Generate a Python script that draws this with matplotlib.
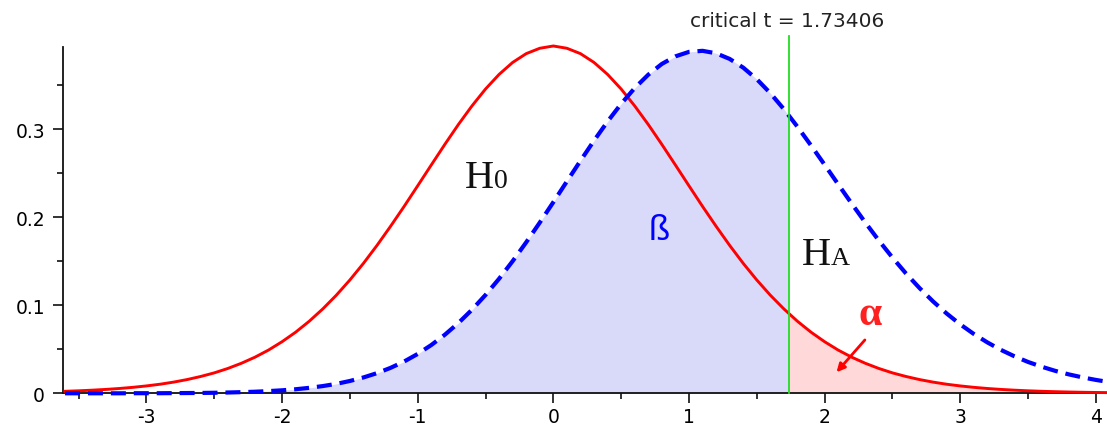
import matplotlib
matplotlib.use("Agg")
import matplotlib.pyplot as plt
import numpy as np
from matplotlib.ticker import MultipleLocator, FuncFormatter

plt.rcParams['axes.unicode_minus'] = False
plt.rcParams['font.family'] = ['DejaVu Sans']

# sample positions (t axis)
x_vals = np.round(np.arange(-3.6, 4.15, 0.1), 2)

# H0 density (red)
h0_density = [0.00228, 0.00284, 0.00354, 0.00440, 0.00546, 0.00677, 0.00837, 0.0103, 0.0127,
              0.0156, 0.0191, 0.0232, 0.0282, 0.0341, 0.0410, 0.0491, 0.0586, 0.0694, 0.0818,
              0.0958, 0.1114, 0.1287, 0.1476, 0.1680, 0.1897, 0.2123, 0.2357, 0.2593, 0.2827,
              0.3053, 0.3264, 0.3456, 0.3622, 0.3758, 0.3858, 0.3919, 0.3945,
              0.3919, 0.3858, 0.3758, 0.3622, 0.3456, 0.3264, 0.3053, 0.2827, 0.2593, 0.2357,
              0.2123, 0.1897, 0.1680, 0.1476, 0.1287, 0.1114, 0.0958, 0.0818, 0.0694, 0.0586,
              0.0491, 0.0410, 0.0341, 0.0282, 0.0232, 0.0191, 0.0156, 0.0127, 0.0103, 0.00837,
              0.00677, 0.00546, 0.00440, 0.00354, 0.00284, 0.00228, 0.00183, 0.00146, 0.00117,
              0.00094, 0.00075]

# HA density (blue dashed)
ha_density = [0.0, 0.0, 0.0, 0.0, 0.0, 0.0001, 0.0001, 0.0001, 0.0002, 0.0003, 0.0004, 0.0006,
              0.0009, 0.0013, 0.0018, 0.0025, 0.0034, 0.0046, 0.0062, 0.0082, 0.0107, 0.0140,
              0.0180, 0.0229, 0.0289, 0.0361, 0.0447, 0.0548, 0.0665, 0.0798, 0.0949, 0.1117,
              0.1301, 0.1501, 0.1715, 0.1939, 0.2171,
              0.2407, 0.2641, 0.2870, 0.3087, 0.3288, 0.3467, 0.3619, 0.3741, 0.3827, 0.3878,
              0.3890, 0.3862, 0.3798, 0.3699, 0.3568, 0.3409, 0.3227, 0.3027, 0.2815, 0.2596,
              0.2374, 0.2154, 0.1940, 0.1735, 0.1542, 0.1361, 0.1195, 0.1043, 0.0906, 0.0783,
              0.0674, 0.0578, 0.0493, 0.0420, 0.0356, 0.0302, 0.0255, 0.0215, 0.0181, 0.0152,
              0.0127]

critical_t = 1.73406
crit_label = "critical t = 1.73406"
x_ticks = [-3, -2, -1, 0, 1, 2, 3, 4]
y_ticks = [0, 0.1, 0.2, 0.3]

x = np.array(x_vals)
red = np.array(h0_density)
blue = np.array(ha_density)

fig = plt.figure(figsize=(11.07, 4.27), dpi=100)
ax = fig.add_axes([63 / 1107, 32.7 / 427, (1107 - 63) / 1107, (394.3 - 48.3) / 427])
ax.set_xlim(-3.615, 4.082)
ax.set_ylim(0, 0.393)

# shaded areas
m = x < critical_t
xb = np.concatenate([x[m], [critical_t]])
yb = np.concatenate([blue[m], [np.interp(critical_t, x, blue)]])
ax.fill_between(xb, 0, yb, color='#D9D9FA', lw=0, zorder=1)
m2 = x > critical_t
xr = np.concatenate([[critical_t], x[m2]])
yr = np.concatenate([[np.interp(critical_t, x, red)], red[m2]])
ax.fill_between(xr, 0, yr, color='#FFD9D9', lw=0, zorder=1)

ax.plot(x, red, color='#FF0000', lw=2.1, zorder=3, clip_on=False)
ax.plot(x, blue, color='#0000FF', lw=3.0, dashes=(3.6, 1.9), zorder=3, clip_on=False)
ax.plot([critical_t, critical_t], [0, 0.406], color='#22DD22', lw=1.3, zorder=4, clip_on=False)

ax.text(critical_t - 0.01, 0.4177, crit_label, ha='center', va='baseline', fontsize=14.5,
        color='#222222', clip_on=False)

serif = ['Liberation Serif', 'DejaVu Serif']
ax.text(-0.655, 0.2339, 'H', family=serif, fontsize=29, va='baseline', ha='left', color='#111111')
ax.text(-0.44, 0.2339, '0', family=serif, fontsize=20, va='baseline', ha='left', color='#111111')
ax.text(1.83, 0.147, 'H', family=serif, fontsize=29, va='baseline', ha='left', color='#111111')
ax.text(2.045, 0.147, 'A', family=serif, fontsize=19, va='baseline', ha='left', color='#111111')
ax.text(0.70, 0.1753, 'ß', family=['Liberation Sans', 'DejaVu Sans'], fontsize=25,
        va='baseline', ha='left', color='#0000FF')
ax.text(2.25, 0.0788, 'α', family=serif, fontsize=30, fontweight='bold', va='baseline',
        ha='left', color='#FF2020')
ax.annotate('', xy=(2.088, 0.0239), xytext=(2.297, 0.0606),
            arrowprops=dict(arrowstyle='-|>', color='#FF0000', lw=2.0, mutation_scale=12,
                            shrinkA=0, shrinkB=0), zorder=5)

for s in ['top', 'right']:
    ax.spines[s].set_visible(False)
for s in ['left', 'bottom']:
    ax.spines[s].set_linewidth(1.3)
    ax.spines[s].set_color('#111111')

ax.set_xticks(x_ticks)
ax.set_yticks(y_ticks)
ax.xaxis.set_minor_locator(MultipleLocator(0.5))
ax.yaxis.set_minor_locator(MultipleLocator(0.05))
ax.yaxis.set_major_formatter(FuncFormatter(lambda v, p: '0' if abs(v) < 1e-9 else f'{v:.1f}'))
ax.xaxis.set_major_formatter(FuncFormatter(lambda v, p: f'{int(round(v))}'))
ax.tick_params(which='major', direction='out', length=7, width=1.2, labelsize=13.5, color='#111111')
ax.tick_params(which='minor', direction='out', length=4, width=1.2, color='#111111')
ax.tick_params(axis='y', pad=6)
ax.tick_params(axis='x', pad=3)

fig.savefig('out.png', dpi=100)
